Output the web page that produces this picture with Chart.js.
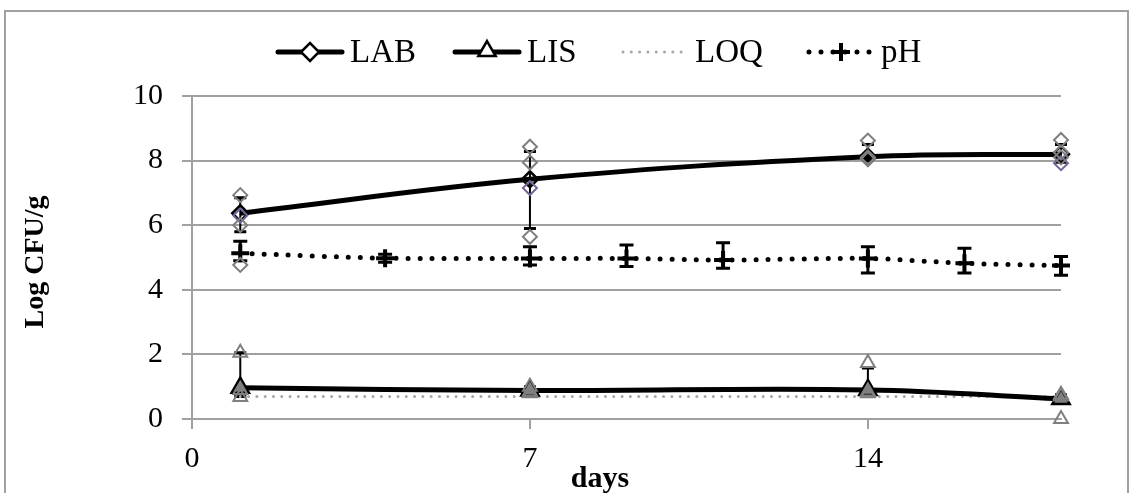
<!DOCTYPE html>
<html><head><meta charset="utf-8">
<script src="https://cdn.jsdelivr.net/npm/chart.js@4.4.0/dist/chart.umd.min.js"></script>
<style>html,body{margin:0;padding:0;background:#fff;}#wrap{width:1133px;height:493px;position:relative}</style>
</head><body><div id="wrap"><canvas id="c" width="1133" height="493"></canvas></div>
<script>
// ---- data ----
const days = [1, 7, 14, 18];
const labMean = [6.37, 7.42, 8.12, 8.2];
const labLow = [5.8, 5.9, 8.0, 7.95];
const labHigh = [6.85, 8.28, 8.5, 8.5];
const labRep1 = [6.93, 8.43, 8.62, 8.64];
const labRep2 = [6.0, 7.94, 8.1, 8.25];
const labRep3 = [4.77, 5.64, 8.05, 8.1];
const labRep4 = [6.3, 7.15, 8.05, 7.92];
const lisMean = [0.97, 0.88, 0.9, 0.62];
const lisLow = [0.7, 0.8, 0.8, 0.55];
const lisHigh = [2.05, 1.0, 1.58, 0.75];
const lisRep1 = [2.05, 1.0, 1.73, 0.75];
const lisRep2 = [0.68, 0.85, 0.85, 0.0];
const lisRep3 = [0.9, 0.8, 0.8, 0.7];
const loqDays = [1, 18];
const loqValue = [0.7, 0.7];
const phDays = [1, 4, 7, 9, 11, 14, 16, 18];
const phMean = [5.13, 4.98, 4.97, 4.97, 4.92, 4.97, 4.82, 4.75];
const phLow = [4.9, 4.85, 4.77, 4.72, 4.67, 4.52, 4.52, 4.45];
const phHigh = [5.5, 5.1, 5.33, 5.39, 5.46, 5.33, 5.29, 5.03];
const xTicks = [0, 7, 14];
const yTicks = [0, 2, 4, 6, 8, 10];
const legendLabels = ['LAB', 'LIS', 'LOQ', 'pH'];
const xTitle = 'days';
const yTitle = 'Log CFU/g';

const GRID = '#a0a0a0';
const SERIF = '"Liberation Serif", "DejaVu Serif", serif';

function pts(xs, ys) { return xs.map((x, i) => ({x: x, y: ys[i]})); }

function rep(label, ys, style, color, r, order) {
  return {label: label, data: pts(days, ys), showLine: false, pointStyle: style, clip: false,
    pointRadius: r, pointBorderColor: color, pointBorderWidth: 2,
    pointBackgroundColor: 'rgba(255,255,255,0)', borderColor: color, order: order};
}

const datasets = [
  rep('labR1', labRep1, 'rectRot', '#7f7f7f', 7, 1),
  rep('labR2', labRep2, 'rectRot', '#7f7f7f', 7, 1),
  rep('labR3', labRep3, 'rectRot', '#7f7f7f', 7, 1),
  rep('labR4', labRep4, 'rectRot', '#75659a', 7, 1),
  rep('lisR1', lisRep1, 'triangle', '#7f7f7f', 8, 1),
  rep('lisR2', lisRep2, 'triangle', '#7f7f7f', 8, 1),
  rep('lisR3', lisRep3, 'triangle', '#7f7f7f', 8, 1),
  {label: legendLabels[0], data: pts(days, labMean), borderColor: '#000', borderWidth: 5, clip: false,
    tension: 0.4, pointStyle: 'rectRot', pointRadius: 8, pointBorderColor: '#000',
    pointBorderWidth: 2.5, pointBackgroundColor: 'rgba(0,0,0,0)', order: 2},
  {label: legendLabels[1], data: pts(days, lisMean), borderColor: '#000', borderWidth: 5, clip: false,
    tension: 0.4, pointStyle: 'triangle', pointRadius: 10, pointBorderColor: '#000',
    pointBorderWidth: 2.5, pointBackgroundColor: '#808080', order: 2},
  {label: legendLabels[2], data: pts(loqDays, loqValue), borderColor: '#a6a6a6', borderWidth: 3, clip: false,
    borderDash: [0, 8.3], borderCapStyle: 'round', pointRadius: 0, order: 4},
  {label: legendLabels[3], data: pts(phDays, phMean), borderColor: '#000', borderWidth: 5, clip: false,
    borderDash: [0, 12], borderCapStyle: 'round', tension: 0.3, pointStyle: 'cross', pointRadius: 9,
    pointBorderColor: '#000', pointBorderWidth: 4, order: 3}
];

const errorBars = {
  id: 'errorBars',
  beforeDatasetsDraw(chart) {
    const ctx = chart.ctx, xs = chart.scales.x, ys = chart.scales.y;
    const sets = [[days, labLow, labHigh, 2, 6], [days, lisLow, lisHigh, 2, 6], [phDays, phLow, phHigh, 3, 7]];
    ctx.save();
    ctx.strokeStyle = '#000';
    sets.forEach(([X, lo, hi, w, cap]) => {
      X.forEach((d, i) => {
        const px = xs.getPixelForValue(d), pl = ys.getPixelForValue(lo[i]), ph = ys.getPixelForValue(hi[i]);
        ctx.lineWidth = w;
        ctx.beginPath(); ctx.moveTo(px, pl); ctx.lineTo(px, ph); ctx.stroke();
        ctx.lineWidth = 3;
        ctx.beginPath();
        ctx.moveTo(px - cap, pl); ctx.lineTo(px + cap, pl);
        ctx.moveTo(px - cap, ph); ctx.lineTo(px + cap, ph);
        ctx.stroke();
      });
    });
    ctx.restore();
  }
};

function diamond(ctx, x, y, r) {
  ctx.beginPath(); ctx.moveTo(x - r, y); ctx.lineTo(x, y - r); ctx.lineTo(x + r, y); ctx.lineTo(x, y + r); ctx.closePath();
}
function triangle(ctx, x, y, r) {
  ctx.beginPath();
  ctx.moveTo(x, y - r);
  ctx.lineTo(x + r * Math.sin(Math.PI * 2 / 3), y - r * Math.cos(Math.PI * 2 / 3));
  ctx.lineTo(x - r * Math.sin(Math.PI * 2 / 3), y - r * Math.cos(Math.PI * 2 / 3));
  ctx.closePath();
}

const decorations = {
  id: 'decorations',
  afterDraw(chart) {
    const ctx = chart.ctx;
    ctx.save();
    // outer frame
    ctx.strokeStyle = GRID; ctx.lineWidth = 2;
    ctx.strokeRect(5, 11, 1123, 490);
    // legend
    const ly = 52, symLen = 64, starts = [278, 455, 623, 809];
    ctx.font = '33px ' + SERIF; ctx.fillStyle = '#000'; ctx.textBaseline = 'middle'; ctx.textAlign = 'left';
    starts.forEach((sx, i) => {
      const mid = sx + symLen / 2;
      ctx.setLineDash([]); ctx.lineCap = 'round';
      if (i === 0 || i === 1) {
        ctx.strokeStyle = '#000'; ctx.lineWidth = 5;
        ctx.beginPath(); ctx.moveTo(sx, ly); ctx.lineTo(sx + symLen, ly); ctx.stroke();
        ctx.lineWidth = 2.5;
        if (i === 0) { diamond(ctx, mid, ly, 9); ctx.fillStyle = '#fff'; ctx.fill(); ctx.stroke(); }
        else { triangle(ctx, mid, ly - 1, 10); ctx.fillStyle = '#fff'; ctx.fill(); ctx.stroke(); }
      } else if (i === 2) {
        ctx.strokeStyle = '#a6a6a6'; ctx.lineWidth = 3; ctx.setLineDash([0, 8.3]);
        ctx.beginPath(); ctx.moveTo(sx, ly); ctx.lineTo(sx + symLen, ly); ctx.stroke();
      } else {
        ctx.strokeStyle = '#000'; ctx.lineWidth = 5; ctx.setLineDash([0, 12]);
        ctx.beginPath(); ctx.moveTo(sx, ly); ctx.lineTo(sx + symLen, ly); ctx.stroke();
        ctx.setLineDash([]); ctx.lineCap = 'butt'; ctx.lineWidth = 4;
        ctx.beginPath(); ctx.moveTo(mid - 9, ly); ctx.lineTo(mid + 9, ly); ctx.moveTo(mid, ly - 9); ctx.lineTo(mid, ly + 9); ctx.stroke();
      }
      ctx.setLineDash([]);
      ctx.fillStyle = '#000';
      ctx.fillText(legendLabels[i], sx + symLen + 8, ly + 1);
    });
    // axis titles
    ctx.font = 'bold 28px ' + SERIF; ctx.textAlign = 'center'; ctx.textBaseline = 'middle';
    ctx.save(); ctx.translate(36, 262); ctx.rotate(-Math.PI / 2); ctx.fillText(yTitle, 0, 0); ctx.restore();
    ctx.font = 'bold 30px ' + SERIF;
    ctx.fillText(xTitle, 600, 479);
    ctx.restore();
  }
};

new Chart(document.getElementById('c'), {
  type: 'line',
  data: {datasets: datasets},
  plugins: [errorBars, decorations],
  options: {
    animation: false, responsive: false, maintainAspectRatio: false,
    layout: {padding: {left: 0, right: 72, top: 96, bottom: 0}},
    plugins: {legend: {display: false}, tooltip: {enabled: false}},
    scales: {
      x: {type: 'linear', min: 0, max: 18,
        afterBuildTicks: s => { s.ticks = xTicks.map(v => ({value: v})); },
        afterFit: s => { s.height = 74; },
        grid: {drawOnChartArea: false, drawTicks: true, tickLength: 10, color: GRID, lineWidth: 2},
        border: {display: true, color: GRID, width: 2},
        ticks: {font: {family: SERIF, size: 30}, color: '#000', padding: 12, maxRotation: 0}},
      y: {type: 'linear', min: 0, max: 10,
        afterBuildTicks: s => { s.ticks = yTicks.map(v => ({value: v})); },
        afterFit: s => { s.width = 192; },
        grid: {color: GRID, lineWidth: 2, tickLength: 10, drawTicks: true},
        border: {display: true, color: GRID, width: 2},
        ticks: {font: {family: SERIF, size: 30}, color: '#000', padding: 19}}
    }
  }
});
</script>
</body></html>
